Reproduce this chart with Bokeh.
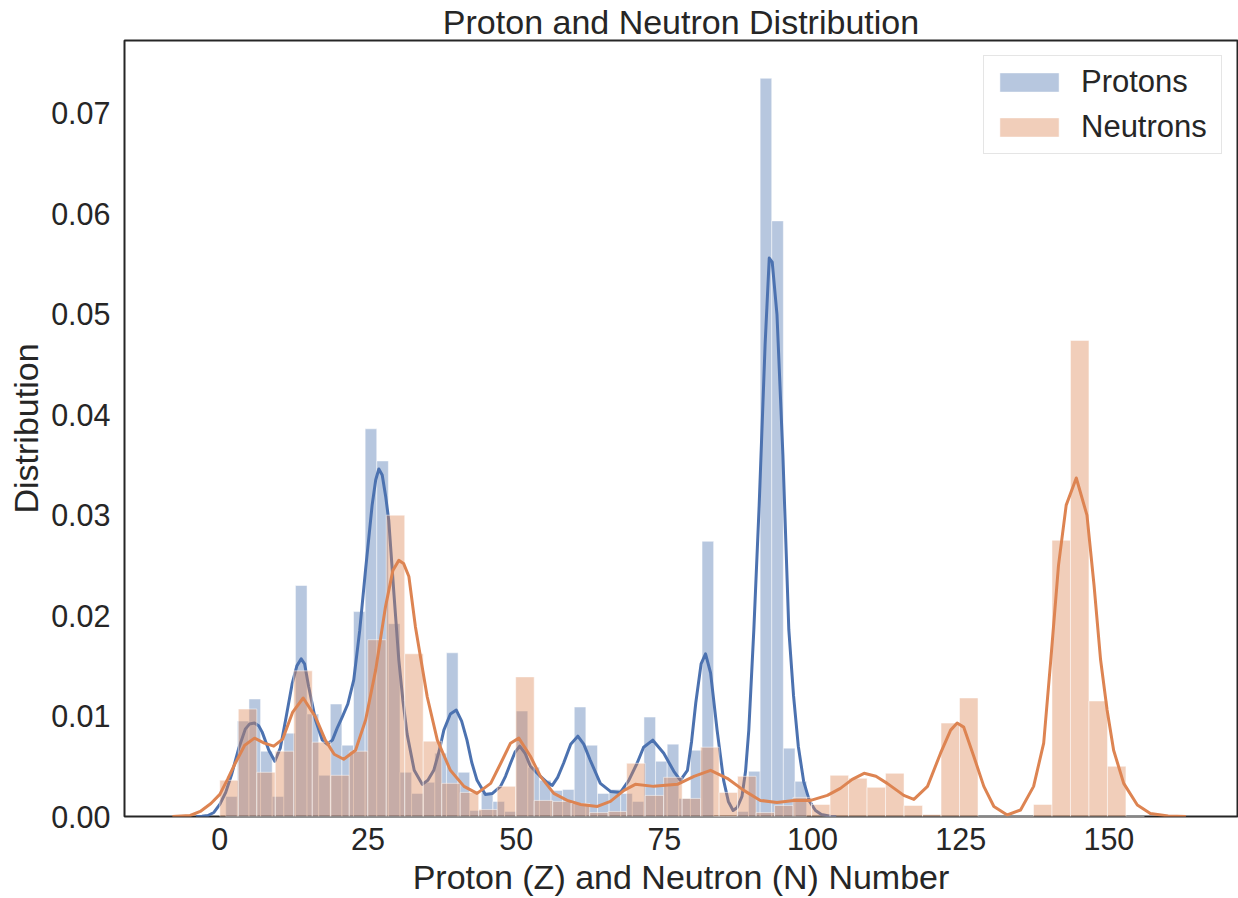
from bokeh.plotting import figure
from bokeh.models import Range1d, FixedTicker, NumeralTickFormatter, Legend, LegendItem, ColumnDataSource
from bokeh.embed import file_html
from bokeh.resources import INLINE

# ---------------- data ----------------
proton_bin_start = 1.0
proton_bin_width = 1.96
neutron_bin_start = 0.0
neutron_bin_width = 3.12

proton_density = [
    0.0020, 0.0095, 0.0117, 0.0065, 0.0020, 0.0083, 0.0230, 0.0102, 0.0041, 0.0112,
    0.0071, 0.0204, 0.0386, 0.0354, 0.0192, 0.0044, 0.0023, 0.0034, 0.0063, 0.0163,
    0.0044, 0.0006, 0.0024, 0.0015, 0.0005, 0.0105, 0.0049, 0.0036, 0.0026, 0.0027,
    0.0109, 0.0071, 0.0023, 0.0027, 0.0023, 0.0015, 0.0099, 0.0055, 0.0072, 0.0018,
    0.0066, 0.0274, 0.0000, 0.0000, 0.0005, 0.0045, 0.0735, 0.0593, 0.0068, 0.0035,
]

neutron_density = [
    0.0036, 0.0107, 0.0044, 0.0065, 0.0145, 0.0074, 0.0041, 0.0065, 0.0176, 0.0300,
    0.0162, 0.0075, 0.0033, 0.0024, 0.0007, 0.0030, 0.0139, 0.0016, 0.0015, 0.0013,
    0.0004, 0.0005, 0.0053, 0.0021, 0.0039, 0.0018, 0.0069, 0.0024, 0.0040, 0.0004,
    0.0011, 0.0019, 0.0012, 0.0041, 0.0038, 0.0029, 0.0043, 0.0011, 0.0002, 0.0093,
    0.0118, 0.0000, 0.0000, 0.0000, 0.0012, 0.0275, 0.0474, 0.0115, 0.0050, 0.0000,
]

proton_kde_x = [
    -4.0, -3.0, -2.0, -1.0, 0.0, 1.0, 2.0, 3.2, 4.3, 5.0, 5.85, 6.6, 7.15, 8.27, 9.28,
    10.2, 11.1, 12.2, 13.0, 13.73, 14.3, 15.0, 16.15, 17.3, 18.1, 19.0, 19.8, 20.65,
    21.6, 22.6, 23.6, 24.58, 25.7, 26.3, 26.83, 27.4, 28.0, 28.5, 29.4, 30.2, 30.9,
    31.6, 32.8, 34.15, 35.1, 36.1, 37.0, 37.8, 38.9, 39.9, 40.8, 41.7, 42.5, 43.4,
    44.8, 46.0, 47.36, 48.2, 49.05, 49.8, 50.6, 51.5, 52.4, 54.1, 55.2, 56.1, 57.0,
    58.0, 59.2, 60.4, 61.4, 62.5, 64.2, 65.9, 67.6, 69.0, 70.4, 71.5, 73.06, 74.9,
    76.6, 77.7, 78.9, 79.6, 80.3, 81.2, 81.95, 82.8, 83.9, 85.0, 85.8, 86.6, 87.3,
    88.1, 88.7, 89.25, 90.1, 91.0, 92.0, 92.7, 93.2, 94.0, 95.0, 96.0, 96.8, 97.6,
    98.5, 99.5, 100.5, 101.5, 103.0, 104.0,
]
proton_kde_y = [
    0.0, 0.00003, 0.0001, 0.0004, 0.0012, 0.0024, 0.0042, 0.0068, 0.0087, 0.0092, 0.0093, 0.0090, 0.0084, 0.0066, 0.0055,
    0.0068, 0.0096, 0.0132, 0.0150, 0.0157, 0.0152, 0.0129, 0.0096, 0.0076, 0.0072, 0.0076, 0.0088, 0.0099,
    0.0112, 0.0136, 0.0185, 0.0245, 0.0310, 0.0335, 0.0346, 0.0340, 0.0318, 0.0295, 0.0220, 0.0156, 0.0115,
    0.0082, 0.0046, 0.0032, 0.0036, 0.0046, 0.0065, 0.0086, 0.0102, 0.0106, 0.0095, 0.0076, 0.0054, 0.0036,
    0.0022, 0.0023, 0.0030, 0.0040, 0.0053, 0.0064, 0.0070, 0.0063, 0.0050, 0.0040, 0.0034, 0.0031, 0.0039,
    0.0053, 0.0072, 0.0080, 0.0072, 0.0056, 0.0033, 0.0025, 0.0024, 0.0036, 0.0053, 0.0069, 0.0076, 0.0063,
    0.0045, 0.0036, 0.0046, 0.0075, 0.0113, 0.0152, 0.0162, 0.0143, 0.0086, 0.0036, 0.0015, 0.0006, 0.0009,
    0.0020, 0.0045, 0.0086, 0.0186, 0.0310, 0.0470, 0.0556, 0.0552, 0.0500, 0.0360, 0.0186, 0.0120, 0.0070,
    0.0035, 0.0015, 0.0006, 0.0002, 0.00003, 0.0,
]

neutron_kde_x = [
    -8.0, -5.0, -3.3, -1.5, 0.0, 1.3, 2.6, 4.2, 5.85, 7.5, 9.1, 10.6, 12.3, 14.07,
    16.15, 17.8, 19.3, 20.9, 22.9, 24.6, 26.3, 27.96, 29.2, 30.2, 31.0, 31.9, 33.0,
    35.0, 36.7, 38.9, 41.2, 43.4, 45.7, 47.4, 49.05, 50.45, 52.4, 54.1, 56.35, 58.6,
    60.9, 63.7, 65.9, 68.2, 70.1, 73.2, 77.2, 80.0, 82.8, 85.6, 88.4, 91.2, 94.0,
    96.85, 99.7, 102.5, 104.7, 106.7, 108.7, 110.7, 112.6, 115.4, 117.1, 119.4, 121.6,
    123.3, 124.4, 125.5, 127.2, 128.9, 130.6, 132.85, 135.1, 137.3, 139.0, 140.2,
    141.5, 142.8, 144.5, 146.3, 147.5, 148.6, 149.7, 150.8, 152.5, 154.8, 157.0,
    160.0, 163.0,
]
neutron_kde_y = [
    0.0, 0.0001, 0.0005, 0.0013, 0.0022, 0.0037, 0.0053, 0.0071, 0.0078, 0.0073, 0.0070, 0.0077, 0.0104, 0.0118,
    0.0099, 0.0076, 0.0062, 0.0057, 0.0066, 0.0096, 0.0146, 0.0209, 0.0245, 0.0255, 0.0252, 0.0239, 0.0189,
    0.0119, 0.0076, 0.0046, 0.0030, 0.0023, 0.0033, 0.0053, 0.0073, 0.0078, 0.0060, 0.0040, 0.0023, 0.0016,
    0.0012, 0.0010, 0.0015, 0.0026, 0.0032, 0.0030, 0.0032, 0.0040, 0.0046, 0.0038, 0.0026, 0.0016, 0.0014,
    0.0016, 0.0016, 0.0021, 0.0028, 0.0037, 0.0043, 0.0040, 0.0033, 0.0021, 0.0017, 0.0030, 0.0063,
    0.0086, 0.0093, 0.0089, 0.0060, 0.0030, 0.0010, 0.00015, 0.00065, 0.0030, 0.0073, 0.0156,
    0.0250, 0.0310, 0.0337, 0.0300, 0.0230, 0.0156, 0.0106, 0.0066, 0.0033, 0.00114, 0.0003,
    0.00005, 0.0,
]

x_ticks = [0, 25, 50, 75, 100, 125, 150]
y_ticks = [0.00, 0.01, 0.02, 0.03, 0.04, 0.05, 0.06, 0.07]

series_labels = ["Protons", "Neutrons"]
title_text = "Proton and Neutron Distribution"
x_label = "Proton (Z) and Neutron (N) Number"
y_label = "Distribution"

# ---------------- styling ----------------
BLUE = "#4C72B0"
ORANGE = "#DD8452"
TEXT = "#262626"
FONT = "Liberation Sans"

p_left = [proton_bin_start + i * proton_bin_width for i in range(len(proton_density))]
p_right = [l + proton_bin_width for l in p_left]
n_left = [neutron_bin_start + i * neutron_bin_width for i in range(len(neutron_density))]
n_right = [l + neutron_bin_width for l in n_left]

src_p = ColumnDataSource(dict(left=p_left, right=p_right, top=proton_density, bottom=[0] * len(p_left)))
src_n = ColumnDataSource(dict(left=n_left, right=n_right, top=neutron_density, bottom=[0] * len(n_left)))

p = figure(width=1238, height=898, output_backend="svg", toolbar_location=None,
           x_range=Range1d(-16.08, 171.7), y_range=Range1d(0, 0.07726),
           min_border_left=124, min_border_right=1, min_border_top=0, min_border_bottom=82)

r_p = p.quad(left="left", right="right", top="top", bottom="bottom", source=src_p,
             fill_color=BLUE, fill_alpha=0.4, line_color="white", line_alpha=0.5, line_width=1)
p.line(proton_kde_x, proton_kde_y, line_color=BLUE, line_width=3, line_join="round")
r_n = p.quad(left="left", right="right", top="top", bottom="bottom", source=src_n,
             fill_color=ORANGE, fill_alpha=0.4, line_color="white", line_alpha=0.5, line_width=1)
p.line(neutron_kde_x, neutron_kde_y, line_color=ORANGE, line_width=3, line_join="round")

p.title.text = title_text
p.title.align = "center"
p.title.text_font = FONT
p.title.text_font_size = "34px"
p.title.text_font_style = "normal"
p.title.text_color = TEXT
p.title.standoff = 0

p.xgrid.visible = False
p.ygrid.visible = False
p.outline_line_color = TEXT
p.outline_line_width = 2
p.background_fill_color = "white"
p.border_fill_color = "white"

for ax in (p.xaxis[0], p.yaxis[0]):
    ax.axis_line_color = None
    ax.major_tick_line_color = None
    ax.minor_tick_line_color = None
    ax.major_tick_out = 0
    ax.major_tick_in = 0
    ax.minor_tick_out = 0
    ax.major_label_text_font = FONT
    ax.major_label_text_font_size = "30.5px"
    ax.major_label_text_color = TEXT
    ax.axis_label_text_font = FONT
    ax.axis_label_text_font_size = "34px"
    ax.axis_label_text_font_style = "normal"
    ax.axis_label_text_color = TEXT

p.xaxis.ticker = FixedTicker(ticks=x_ticks)
p.yaxis.ticker = FixedTicker(ticks=y_ticks)
p.yaxis.formatter = NumeralTickFormatter(format="0.00")
p.xaxis.axis_label = x_label
p.yaxis.axis_label = y_label
p.xaxis.major_label_standoff = 11
p.yaxis.major_label_standoff = 14
p.xaxis.axis_label_standoff = 5
p.yaxis.axis_label_standoff = 3

legend = Legend(items=[LegendItem(label=series_labels[0], renderers=[r_p]),
                       LegendItem(label=series_labels[1], renderers=[r_n])],
                location="top_right")
legend.label_text_font = FONT
legend.label_text_font_size = "31px"
legend.label_text_color = TEXT
legend.glyph_width = 74
legend.glyph_height = 24
legend.label_standoff = 15
legend.label_width = 132
legend.padding = 8
legend.spacing = 9
legend.margin = 15
legend.border_line_color = "#cccccc"
legend.border_line_width = 1
legend.background_fill_alpha = 0.8
p.add_layout(legend)

open("out.html", "w").write(file_html(p, INLINE))
